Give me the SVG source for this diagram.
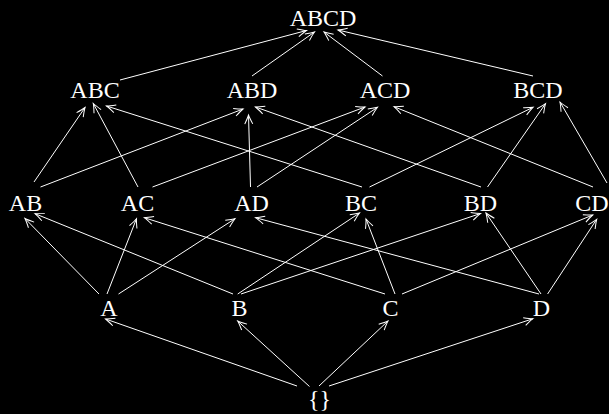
<svg xmlns="http://www.w3.org/2000/svg" width="609" height="414" viewBox="0 0 609 414">
<style>
.lbl{font-family:"Liberation Serif","DejaVu Serif",serif;font-size:24px;fill:#fff;text-anchor:middle}
.e line{stroke:#fff;stroke-width:1;fill:none;marker-end:url(#arr)}
</style>
<defs>
<marker id="arr" markerUnits="userSpaceOnUse" orient="auto" refX="0" refY="0" markerWidth="12" markerHeight="10" viewBox="-10 -5 12 10" overflow="visible">
<path d="M-9,-4 Q-3,-1 0,0 Q-3,1 -9,4" fill="none" stroke="#fff" stroke-width="1"/>
</marker>
</defs>
<rect x="0" y="0" width="609" height="414" fill="#000"/>
<g class="e" id="edges">
<line x1="120" y1="80" x2="306.5" y2="30.5"/>
<line x1="252" y1="76" x2="314.5" y2="32"/>
<line x1="382.5" y1="76" x2="324" y2="32"/>
<line x1="533" y1="76" x2="338" y2="30"/>

<line x1="34" y1="182" x2="85" y2="107.5"/>
<line x1="40.5" y1="187" x2="243" y2="109"/>
<line x1="138" y1="187" x2="93.3" y2="103.5"/>
<line x1="152.5" y1="187" x2="365" y2="107"/>
<line x1="250.5" y1="187" x2="248.5" y2="115"/>
<line x1="257" y1="187" x2="377.5" y2="107.3"/>
<line x1="362" y1="187" x2="106.5" y2="106"/>
<line x1="369.5" y1="187" x2="533" y2="107.3"/>
<line x1="481" y1="187" x2="255.5" y2="107"/>
<line x1="487.5" y1="187" x2="545.5" y2="103.7"/>
<line x1="593" y1="187" x2="394" y2="106.7"/>
<line x1="607" y1="183" x2="560" y2="102"/>

<line x1="99" y1="294" x2="25" y2="218.5"/>
<line x1="107" y1="294" x2="136.5" y2="218.7"/>
<line x1="118.5" y1="294" x2="235" y2="218.7"/>
<line x1="233" y1="294" x2="35" y2="213.7"/>
<line x1="237.7" y1="294" x2="359.5" y2="213"/>
<line x1="241" y1="294" x2="480.5" y2="213.5"/>
<line x1="385" y1="294" x2="144.3" y2="217.7"/>
<line x1="395" y1="294" x2="366" y2="219"/>
<line x1="402" y1="294" x2="592.7" y2="215"/>
<line x1="539" y1="294" x2="255.5" y2="217.7"/>
<line x1="541" y1="294" x2="486" y2="213"/>
<line x1="547.6" y1="294" x2="596.7" y2="219.3"/>

<line x1="297" y1="386" x2="105.6" y2="319"/>
<line x1="309.5" y1="386.5" x2="237.7" y2="321"/>
<line x1="319" y1="386" x2="388" y2="321"/>
<line x1="329" y1="386" x2="533" y2="318.7"/>
</g>
<g id="ABCD"><text class="lbl" x="323" y="25.5">ABCD</text></g>
<g id="ABC"><text class="lbl" x="95" y="98">ABC</text></g>
<g id="ABD"><text class="lbl" x="252" y="98">ABD</text></g>
<g id="ACD"><text class="lbl" x="385" y="98">ACD</text></g>
<g id="BCD"><text class="lbl" x="538" y="98">BCD</text></g>
<g id="AB"><text class="lbl" x="25.5" y="210.7">AB</text></g>
<g id="AC"><text class="lbl" x="137.5" y="210.7">AC</text></g>
<g id="AD"><text class="lbl" x="251.5" y="210.7">AD</text></g>
<g id="BC"><text class="lbl" x="361" y="210.7">BC</text></g>
<g id="BD"><text class="lbl" x="480.5" y="210.7">BD</text></g>
<g id="CD"><text class="lbl" x="592" y="210.7">CD</text></g>
<g id="A"><text class="lbl" x="109" y="316">A</text></g>
<g id="B"><text class="lbl" x="239.5" y="316">B</text></g>
<g id="C"><text class="lbl" x="390.5" y="316">C</text></g>
<g id="D"><text class="lbl" x="541.5" y="316">D</text></g>
<g id="empty"><text class="lbl" x="319.5" y="407">{}</text></g>
</svg>
